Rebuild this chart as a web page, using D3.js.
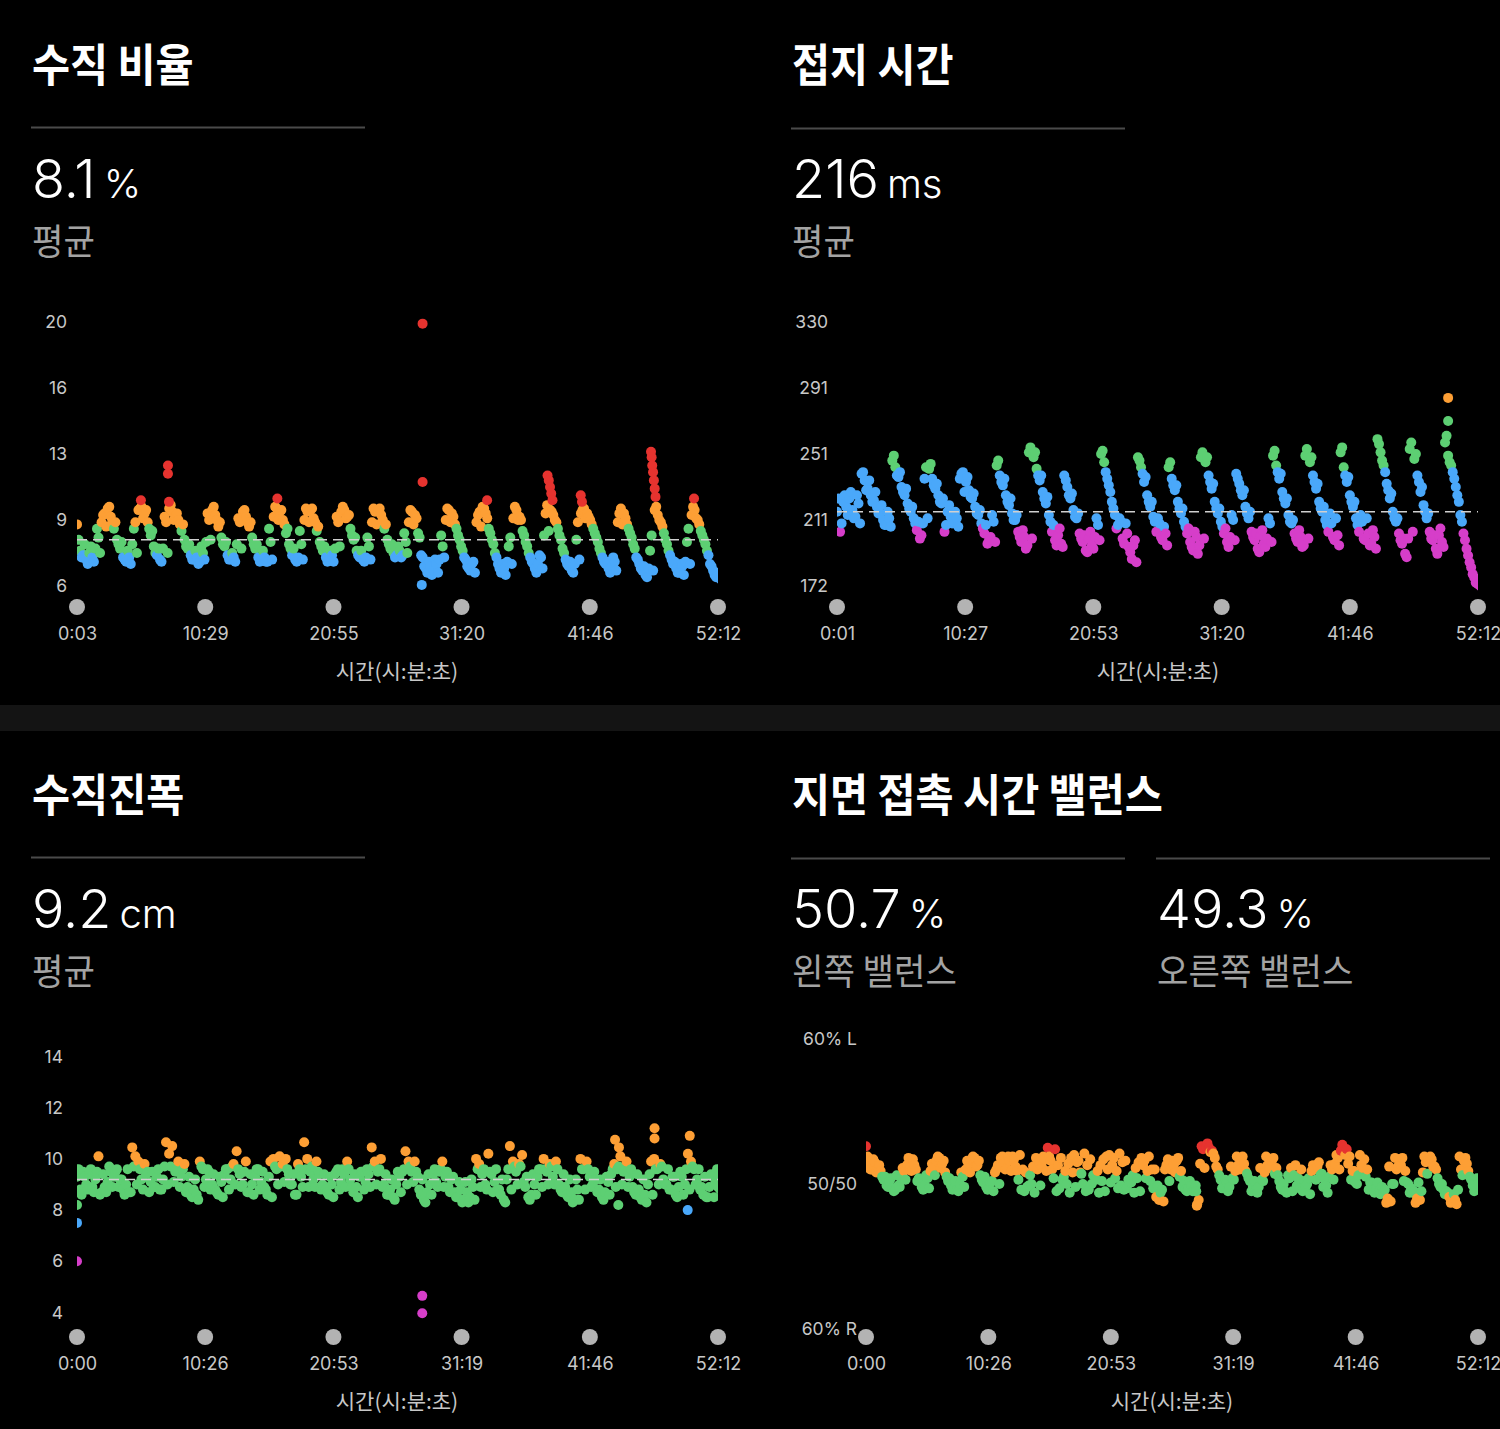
<!DOCTYPE html>
<html><head><meta charset="utf-8">
<script src="https://cdn.jsdelivr.net/npm/d3@7"></script>
<style>
html,body{margin:0;padding:0;background:#000;}
svg{display:block;}
</style></head><body>
<svg id="c" width="1500" height="1429"></svg>
<script>
// ---------- DATA ----------
const SAMPLE_STEP = 15;   // seconds between recorded samples
const WINDOW_STEP = 30;   // seconds per high/low window

// 수직 비율 (vertical ratio, %)
const ratioStart = 3;
const ratioValues = [
  8.8, 7.6, 7.4, 7.2, 7.5, 7.3, 7.7, 8.2, 8.9, 9.4,
  9.7, 9.2, 8.6, 8.1, 7.7, 7.3, 7.1, 7.3, 7.9, 8.9,
  9.6, 9.8, 9.4, 8.9, 8.3, 7.8, 7.4, 7.2, 7.7, 8.9,
  9.7, 9.5, 9.2, 9.0, 8.5, 8.1, 7.7, 7.4, 7.2, 7.3,
  7.1, 7.5, 8.0, 9.0, 9.6, 9.3, 8.7, 8.2, 7.8, 7.4,
  7.2, 7.3, 7.9, 8.9, 9.5, 9.2, 8.7, 8.2, 7.7, 7.3,
  7.2, 7.3, 7.1, 8.0, 9.2, 9.7, 9.5, 9.0, 8.4, 7.9,
  7.4, 7.2, 7.3, 7.9, 9.0, 9.5, 9.6, 9.1, 8.5, 8.0,
  7.6, 7.3, 7.2, 7.4, 7.7, 8.9, 9.5, 9.6, 9.2, 8.6,
  8.1, 7.6, 7.3, 7.2, 7.3, 7.8, 8.9, 9.5, 9.6, 9.3,
  8.6, 8.1, 7.7, 7.5, 7.4, 7.6, 7.4, 8.0, 8.9, 9.5,
  9.3, 8.4, 7.4, 6.9, 6.6, 6.9, 6.7, 7.0, 7.2, 7.8,
  9.0, 9.6, 9.4, 8.8, 8.3, 7.8, 7.3, 6.9, 6.7, 7.1,
  8.9, 9.5, 9.8, 9.4, 8.6, 8.1, 7.5, 7.0, 6.6, 6.8,
  7.1, 8.2, 9.1, 9.6, 9.2, 8.5, 8.0, 7.5, 7.1, 6.8,
  7.0, 7.3, 8.3, 9.9, 9.6, 9.3, 8.9, 8.3, 7.7, 7.2,
  6.9, 6.7, 7.0, 8.9, 9.4, 9.7, 9.4, 9.0, 8.6, 8.2,
  7.7, 7.3, 7.0, 6.8, 6.9, 7.1, 8.9, 9.7, 9.4, 8.8,
  8.4, 7.9, 7.3, 7.0, 6.7, 6.5, 6.8, 8.3, 9.6, 9.3,
  8.9, 8.4, 7.9, 7.4, 7.0, 6.8, 6.6, 6.9, 7.1, 8.6,
  9.3, 9.6, 9.0, 8.5, 8.1, 7.6, 7.0, 6.7, 6.4
];
const ratioWindowHigh = [
  8.1, 7.9, 7.8, 8.6, 9.3, 9.8, 8.9, 8.0, 7.6, 8.6,
  9.7, 9.6, 8.5, 7.7, 9.2, 9.9, 9.4, 8.8, 7.9, 7.6,
  7.8, 9.4, 9.8, 8.9, 8.0, 7.5, 9.1, 9.6, 8.9, 7.9,
  7.6, 8.6, 9.8, 9.6, 8.6, 7.7, 8.5, 9.7, 9.7, 8.7,
  7.8, 7.6, 9.2, 9.8, 9.3, 8.2, 7.6, 8.2, 9.7, 9.7,
  8.8, 7.9, 7.8, 8.4, 9.6, 9.1, 7.3, 7.1, 7.2, 8.3,
  9.7, 9.2, 8.1, 7.2, 7.0, 9.3, 9.7, 8.4, 7.3, 7.0,
  7.8, 9.8, 9.0, 7.8, 7.0, 7.4, 9.4, 9.5, 8.6, 7.5,
  7.1, 8.1, 9.6, 9.2, 8.4, 7.5, 7.1, 7.3, 9.4, 9.1,
  8.2, 7.2, 6.9, 7.6, 9.8, 8.7, 7.6, 7.1, 7.0, 8.0,
  9.8, 8.8, 7.9, 6.9, 6.6
];
const ratioWindowLow = [
  7.3, 7.0, 7.1, 7.5, 8.7, 8.9, 7.9, 7.2, 7.0, 7.5,
  9.1, 8.6, 7.5, 7.1, 7.5, 9.0, 8.8, 7.8, 7.2, 7.0,
  7.2, 8.1, 9.0, 7.9, 7.2, 7.1, 7.7, 8.9, 7.9, 7.1,
  7.1, 7.2, 9.0, 8.8, 7.7, 7.1, 7.2, 8.9, 8.9, 7.8,
  7.1, 7.1, 7.8, 9.1, 8.3, 7.4, 7.1, 7.2, 8.8, 9.0,
  7.9, 7.3, 7.3, 7.5, 8.8, 8.2, 6.8, 6.5, 6.6, 7.3,
  8.9, 8.6, 7.6, 6.8, 6.6, 8.7, 9.1, 7.9, 6.8, 6.5,
  7.0, 9.0, 8.3, 7.3, 6.6, 6.8, 8.5, 9.0, 8.1, 7.0,
  6.6, 7.2, 9.1, 8.8, 8.0, 7.1, 6.6, 6.7, 8.8, 8.6,
  7.7, 6.8, 6.4, 6.7, 9.0, 8.1, 7.2, 6.6, 6.5, 7.0,
  9.1, 8.3, 7.4, 6.5, 6.3
];
const ratioExtraTimes = [315, 447, 447, 452, 981, 1690, 1690, 1686, 2005, 2300, 2306, 2312, 2318, 2324, 2462, 2468, 2805, 2808, 2811, 2815, 2819, 2823, 2827, 3015];
const ratioExtraValues = [10.2, 12.3, 11.8, 10.1, 10.3, 19.9, 11.3, 6.05, 10.2, 11.7, 11.4, 11.0, 10.6, 10.2, 10.5, 10.1, 13.1, 12.8, 12.3, 11.9, 11.4, 10.9, 10.4, 10.3];
const ratioYTicks = [6, 9, 13, 16, 20];
const ratioXLabels = ["0:03", "10:29", "20:55", "31:20", "41:46", "52:12"];
const ratioZoneBreaks = [6.05, 7.45, 8.65, 10.05];
const ratioAvg = 8.1;

// 접지 시간 (ground contact time, ms)
const contactStart = 1;
const contactValues = [
  216, 204, 222, 219, 224, 217, 213, 221, 239, 235,
  230, 226, 223, 219, 215, 211, 208, 212, 247, 243,
  237, 231, 226, 221, 216, 212, 205, 200, 209, 243,
  242, 236, 230, 226, 221, 204, 216, 213, 210, 212,
  236, 240, 234, 229, 224, 219, 214, 209, 203, 197,
  201, 210, 244, 238, 232, 226, 220, 215, 211, 204,
  198, 201, 196, 255, 249, 242, 235, 228, 221, 214,
  204, 199, 202, 197, 238, 231, 224, 217, 212, 203,
  198, 193, 200, 196, 201, 208, 251, 246, 236, 228,
  218, 206, 212, 200, 209, 195, 188, 199, 249, 243,
  234, 226, 219, 213, 204, 209, 199, 203, 243, 236,
  229, 222, 215, 210, 203, 198, 193, 201, 196, 252,
  246, 238, 230, 222, 215, 210, 203, 198, 201, 211,
  239, 233, 226, 219, 212, 204, 199, 194, 202, 197,
  200, 209, 250, 244, 236, 228, 221, 214, 209, 203,
  198, 201, 196, 254, 246, 238, 230, 222, 216, 211,
  204, 209, 199, 202, 252, 243, 234, 226, 219, 212,
  204, 210, 199, 203, 197, 201, 260, 252, 244, 233,
  224, 216, 210, 203, 197, 191, 200, 258, 248, 238,
  228, 220, 212, 204, 199, 194, 202, 198, 258, 250,
  244, 236, 226, 214, 203, 194, 186, 179, 174
];
const contactWindowHigh = [
  224, 226, 228, 226, 240, 235, 228, 220, 216, 250,
  240, 230, 219, 210, 236, 245, 233, 224, 220, 216,
  239, 237, 227, 217, 208, 214, 247, 236, 224, 214,
  205, 252, 252, 238, 225, 208, 206, 235, 227, 215,
  202, 204, 212, 253, 232, 214, 210, 203, 196, 247,
  237, 222, 212, 207, 246, 232, 218, 206, 204, 249,
  249, 233, 218, 206, 214, 236, 229, 216, 203, 205,
  212, 253, 239, 224, 211, 205, 250, 249, 233, 219,
  215, 212, 255, 237, 222, 214, 212, 205, 257, 240,
  227, 212, 200, 254, 251, 231, 215, 202, 206, 262,
  240, 222, 199, 183, 176
];
const contactWindowLow = [
  209, 214, 212, 209, 229, 222, 215, 208, 207, 238,
  228, 218, 209, 202, 212, 232, 222, 208, 209, 207,
  228, 225, 215, 206, 199, 198, 234, 222, 211, 201,
  194, 200, 238, 224, 210, 196, 195, 226, 213, 200,
  192, 194, 199, 240, 222, 208, 197, 192, 186, 239,
  222, 210, 201, 196, 232, 218, 207, 195, 191, 200,
  234, 218, 207, 195, 199, 229, 215, 201, 192, 195,
  198, 240, 224, 210, 200, 195, 200, 234, 218, 208,
  201, 196, 238, 222, 208, 200, 196, 194, 247, 229,
  212, 199, 189, 204, 234, 216, 200, 191, 195, 246,
  231, 210, 190, 177, 172
];
const contactExtraTimes = [2986, 2986, 3132];
const contactExtraValues = [285, 271, 173];
const contactYTicks = [172, 211, 251, 291, 330];
const contactXLabels = ["0:01", "10:27", "20:53", "31:20", "41:46", "52:12"];
const contactZoneBreaks = [206.5, 240.5, 275.5, 305.5];
const contactAvg = 216;

// 수직진폭 (vertical oscillation, cm)
const oscStart = 0;
const oscValues = [
  9.3, 8.8, 9.5, 9.0, 9.4, 8.9, 9.2, 10.1, 8.7, 8.9,
  9.1, 9.5, 9.3, 9.6, 9.2, 8.8, 9.0, 8.7, 10.45, 10.1,
  9.9, 9.2, 9.8, 9.5, 9.1, 8.9, 9.3, 8.8, 9.2, 10.65,
  10.2, 10.5, 9.5, 9.9, 9.3, 9.8, 8.9, 8.6, 8.8, 8.6,
  9.9, 9.6, 9.2, 9.5, 9.0, 8.8, 8.6, 9.1, 9.4, 9.6,
  9.2, 9.8, 10.3, 9.4, 9.0, 9.9, 8.7, 9.0, 9.3, 9.6,
  9.1, 8.9, 8.6, 9.9, 10.0, 9.6, 10.1, 9.8, 10.0, 9.4,
  9.0, 8.6, 9.8, 9.3, 10.65, 10.0, 9.5, 9.2, 9.9, 9.4,
  9.0, 8.8, 8.6, 9.0, 9.4, 9.6, 9.1, 9.4, 9.9, 9.2,
  8.7, 8.9, 9.3, 9.5, 9.1, 9.4, 10.45, 9.9, 9.5, 10.0,
  9.0, 8.6, 8.8, 8.5, 9.0, 9.3, 9.5, 10.3, 9.9, 9.5,
  9.9, 9.3, 8.6, 8.4, 8.7, 9.0, 9.4, 9.1, 9.5, 9.9,
  9.3, 8.9, 9.2, 8.7, 8.5, 8.8, 8.4, 8.7, 8.5, 8.9,
  10.0, 9.8, 9.4, 9.0, 10.2, 9.4, 9.1, 8.8, 8.6, 8.4,
  9.2, 10.5, 9.9, 9.5, 9.8, 10.15, 8.9, 8.5, 8.6, 9.0,
  9.3, 9.6, 10.0, 9.5, 9.8, 9.3, 9.9, 9.0, 8.7, 8.9,
  8.5, 8.7, 8.4, 8.8, 10.0, 9.6, 9.9, 9.3, 9.0, 9.2,
  8.8, 8.5, 8.7, 9.1, 9.4, 9.8, 9.6, 10.1, 9.5, 9.9,
  9.3, 8.9, 8.6, 8.8, 8.4, 8.6, 9.0, 9.9, 10.0, 9.6,
  9.8, 9.2, 9.0, 8.8, 9.3, 8.6, 8.9, 9.3, 9.0, 10.2,
  9.9, 9.6, 9.2, 8.8, 8.6, 8.5, 8.9, 9.3, 9.1
];
const oscWindowHigh = [
  9.6, 9.3, 9.6, 9.5, 9.4, 9.7, 9.5, 9.2, 9.6, 9.7,
  9.6, 9.4, 9.5, 9.6, 9.7, 9.7, 9.6, 9.6, 9.3, 9.2,
  9.7, 9.6, 9.4, 9.3, 9.6, 9.7, 9.6, 9.5, 9.4, 9.6,
  9.5, 9.3, 9.7, 9.7, 9.6, 9.4, 9.6, 9.6, 9.7, 9.5,
  9.4, 9.3, 9.5, 9.6, 9.6, 9.4, 9.5, 9.6, 9.7, 9.6,
  9.4, 9.2, 9.5, 9.6, 9.7, 9.5, 9.2, 9.4, 9.6, 9.6,
  9.5, 9.3, 9.1, 9.1, 9.2, 9.6, 9.6, 9.5, 9.6, 9.2,
  9.6, 9.7, 9.7, 9.3, 9.4, 9.6, 9.6, 9.7, 9.6, 9.4,
  9.2, 9.2, 9.6, 9.6, 9.5, 9.2, 9.3, 9.6, 9.7, 9.6,
  9.6, 9.4, 9.2, 9.4, 9.6, 9.7, 9.6, 9.3, 9.5, 9.6,
  9.7, 9.6, 9.3, 9.4, 9.6
];
const oscWindowLow = [
  8.6, 8.8, 8.7, 8.6, 8.7, 8.9, 8.9, 8.6, 8.7, 9.0,
  8.8, 8.7, 8.9, 8.8, 9.0, 9.1, 8.9, 8.7, 8.5, 8.4,
  8.9, 8.8, 8.7, 8.5, 8.8, 9.0, 8.9, 8.7, 8.6, 8.8,
  8.8, 8.5, 9.0, 9.1, 9.0, 8.6, 8.9, 8.9, 8.9, 8.8,
  8.7, 8.5, 8.8, 8.9, 8.9, 8.5, 8.8, 8.9, 9.0, 8.9,
  8.6, 8.4, 8.7, 9.0, 9.1, 8.8, 8.3, 8.6, 8.9, 8.9,
  8.7, 8.5, 8.3, 8.3, 8.4, 8.9, 8.8, 8.7, 8.8, 8.3,
  8.8, 9.0, 9.1, 8.4, 8.6, 8.9, 9.0, 9.0, 8.8, 8.6,
  8.3, 8.4, 8.8, 8.9, 8.7, 8.4, 8.6, 8.9, 9.0, 8.9,
  8.7, 8.5, 8.3, 8.6, 9.0, 9.0, 8.8, 8.5, 8.6, 8.8,
  9.0, 8.9, 8.5, 8.5, 8.8
];
const oscExtraTimes = [0, 0, 0, 1687, 1687, 2629, 2645, 2648, 2822, 2822, 2984, 2994, 3132, 3132];
const oscExtraValues = [8.2, 7.5, 6.0, 4.65, 3.97, 10.75, 8.2, 10.45, 11.2, 10.8, 8.0, 10.9, 9.3, 8.9];
const oscYTicks = [4, 6, 8, 10, 12, 14];
const oscXLabels = ["0:00", "10:26", "20:53", "31:19", "41:46", "52:12"];
const oscZoneBreaks = [6.35, 8.15, 9.75, 11.55];
const oscAvg = 9.2;

// 지면 접촉 시간 밸런스 (GCT balance, % left)
const balanceStart = 0;
const balanceValues = [
  51.2, 51.6, 51.0, 51.5, 51.1, 50.9, 50.3, 49.9, 50.2, 49.7,
  49.6, 49.9, 50.4, 50.9, 51.3, 51.1, 51.7, 51.0, 50.4, 49.8,
  49.9, 50.4, 50.9, 51.2, 51.6, 51.8, 51.4, 50.8, 50.2, 49.9,
  49.7, 49.6, 50.0, 50.5, 51.0, 51.4, 51.7, 51.8, 51.3, 50.6,
  50.1, 49.8, 49.7, 50.2, 50.8, 51.3, 51.8, 51.4, 51.1, 51.6,
  51.9, 51.2, 50.3, 49.6, 49.5, 49.8, 50.6, 51.2, 51.8, 51.5,
  51.2, 51.7, 52.5, 51.6, 50.4, 49.5, 49.7, 50.3, 50.9, 51.4,
  51.8, 52.0, 51.5, 50.8, 50.0, 49.5, 49.6, 50.0, 50.5, 50.9,
  51.3, 51.7, 51.9, 52.0, 51.3, 50.4, 49.7, 49.9, 49.6, 49.7,
  50.1, 50.6, 51.1, 51.5, 51.8, 51.6, 50.9, 50.2, 49.7, 49.1,
  48.9, 49.6, 51.0, 51.7, 51.0, 51.3, 51.6, 50.5, 49.8, 49.6,
  49.7, 49.9, 49.5, 48.6, 51.4, 52.4, 52.6, 52.5, 52.3, 51.8,
  51.0, 50.3, 49.9, 50.1, 49.8, 50.4, 50.9, 51.3, 51.7, 51.4,
  50.7, 50.2, 49.8, 49.6, 49.8, 50.3, 50.8, 51.3, 51.6, 51.8,
  51.1, 50.2, 49.6, 49.5, 50.6, 51.1, 50.6, 49.9, 49.7, 49.5,
  49.8, 50.4, 50.9, 51.0, 51.2, 50.6, 49.8, 49.9, 50.5, 51.0,
  51.4, 51.8, 52.3, 52.5, 52.4, 51.9, 50.9, 50.1, 50.6, 51.3,
  51.7, 51.0, 50.1, 49.6, 49.7, 49.5, 49.8, 49.6, 49.0, 48.8,
  50.0, 51.0, 51.7, 51.8, 50.9, 50.0, 49.7, 49.5, 49.0, 48.9,
  50.8, 51.5, 51.8, 51.7, 51.2, 50.4, 49.8, 49.6, 49.5, 49.1,
  48.8, 48.9, 49.6, 51.0, 51.6, 51.4, 50.5, 49.9, 50.1
];
const balanceWindowHigh = [
  51.9, 51.7, 51.3, 50.5, 50.4, 50.6, 51.1, 51.8, 51.3, 50.3,
  50.6, 51.4, 51.9, 51.6, 50.4, 50.2, 50.8, 51.6, 51.9, 51.6,
  50.5, 50.1, 51.0, 51.9, 51.9, 51.7, 52.0, 50.8, 50.0, 51.0,
  51.9, 51.9, 52.4, 51.8, 50.0, 50.8, 51.6, 52.1, 51.7, 50.3,
  50.2, 51.0, 51.8, 52.1, 51.6, 50.1, 50.4, 51.3, 51.9, 51.0,
  49.4, 51.3, 51.6, 51.8, 50.2, 50.2, 49.9, 52.6, 52.8, 52.1,
  50.6, 50.3, 51.2, 51.9, 51.9, 50.4, 50.2, 51.1, 51.9, 51.6,
  50.6, 50.0, 50.4, 51.3, 51.0, 50.0, 51.3, 51.5, 50.3, 51.3,
  52.0, 52.7, 51.4, 50.9, 52.0, 50.5, 50.1, 50.1, 49.4, 51.2,
  51.8, 51.3, 50.1, 49.4, 50.1, 51.9, 51.9, 51.0, 50.0, 49.4,
  49.3, 51.9, 51.8, 50.3, 50.4
];
const balanceWindowLow = [
  51.0, 50.8, 50.5, 49.8, 49.5, 49.8, 50.3, 50.9, 50.2, 49.6,
  49.7, 50.6, 51.1, 50.5, 49.6, 49.5, 49.8, 50.8, 51.2, 50.3,
  49.6, 49.5, 50.0, 51.0, 50.9, 50.9, 51.0, 49.9, 49.4, 49.9,
  50.9, 51.0, 51.3, 50.5, 49.4, 49.8, 50.7, 51.3, 50.6, 49.4,
  49.5, 50.1, 50.9, 51.5, 50.3, 49.4, 49.5, 50.4, 51.0, 49.9,
  48.8, 50.2, 50.8, 50.9, 49.5, 49.5, 48.9, 51.1, 52.2, 51.2,
  49.7, 49.5, 50.3, 51.0, 50.9, 49.5, 49.4, 50.2, 51.1, 50.7,
  49.8, 49.4, 49.5, 50.4, 50.2, 49.3, 50.3, 50.7, 49.4, 50.3,
  51.0, 52.0, 50.3, 50.0, 51.1, 49.6, 49.4, 49.3, 48.7, 50.0,
  51.2, 50.2, 49.4, 48.7, 49.5, 50.7, 51.2, 50.0, 49.3, 48.7,
  48.6, 50.6, 50.9, 49.5, 49.7
];
const balanceExtraTimes = [0, 1690, 1693, 3132, 3132];
const balanceExtraValues = [52.6, 49.5, 48.5, 50.3, 50.0];
const balanceYTicks = [40, 50, 60];
const balanceYLabels = ["60% R", "50/50", "60% L"];
const balanceXLabels = ["0:00", "10:26", "20:53", "31:19", "41:46", "52:12"];
const balanceZoneBreaks = [0.75, 2.25]; // deviation from 50/50

// ---------- DRAWING ----------
const COL = {magenta: "#d63ec9", blue: "#4aa8fa", green: "#5dcf73", orange: "#fd9f35", red: "#e6332f"};
const FONT = "Inter, 'Noto Sans CJK KR', sans-serif";
const KFONT = "'Noto Sans CJK KR', sans-serif";
const DOT_R = 5;
const svg = d3.select("#c");
const defs = svg.append("defs");
svg.append("rect").attr("width", 1500).attr("height", 1429).attr("fill", "#000");
svg.append("rect").attr("x", 0).attr("y", 705).attr("width", 1500).attr("height", 26).attr("fill", "#141414");

const toSec = s => { const p = s.split(":").map(Number); return p[0] * 60 + p[1]; };

function header(h) {
  svg.append("text").attr("transform", `translate(${h.x},${h.titleY}) scale(0.92,1)`)
    .attr("font-family", KFONT).attr("font-weight", 700).attr("font-size", 45)
    .attr("fill", "#fff").text(h.title);
  h.stats.forEach(s => {
    svg.append("line").attr("x1", s.x - 1).attr("x2", s.x + 333).attr("y1", h.lineY).attr("y2", h.lineY)
      .attr("stroke", "#4a4a4a").attr("stroke-width", 2);
    const t = svg.append("text").attr("x", s.x).attr("y", h.valueY).attr("fill", "#fff")
      .attr("font-family", FONT).attr("font-weight", 300);
    t.append("tspan").attr("font-size", 54).text(s.value);
    t.append("tspan").attr("font-size", 40).attr("dx", 8).text(s.unit);
    svg.append("text").attr("transform", `translate(${s.x},${h.subY}) scale(0.95,1)`)
      .attr("font-family", KFONT).attr("font-size", 36).attr("fill", "#a3a3a3").text(s.label);
  });
}

function panel(p) {
  const tickSecs = p.xLabels.map(toSec);
  const x = d3.scaleLinear().domain([tickSecs[0], tickSecs[tickSecs.length - 1]]).range([p.x0, p.x1]);
  const y = p.y;
  const g = svg.append("g");

  const pts = p.values.map((v, i) => ({t: p.start + i * SAMPLE_STEP, v}))
    .concat(p.high.map((v, j) => ({t: p.start + j * WINDOW_STEP + 7.5, v})))
    .concat(p.low.map((v, j) => ({t: p.start + j * WINDOW_STEP + 22.5, v})))
    .sort((a, b) => a.t - b.t)
    .concat(p.extraTimes.map((t, i) => ({t, v: p.extraValues[i]})));

  defs.append("clipPath").attr("id", p.id).append("rect")
    .attr("x", p.x0).attr("y", 0).attr("width", p.x1 - p.x0).attr("height", 1429);

  g.append("g").attr("clip-path", `url(#${p.id})`)
    .selectAll("circle").data(pts).join("circle")
    .attr("cx", d => x(d.t)).attr("cy", d => y(d.v)).attr("r", DOT_R)
    .attr("fill", d => p.color(d.v));

  if (p.avg != null) {
    g.append("line").attr("x1", p.x0).attr("x2", p.x1).attr("y1", y(p.avg)).attr("y2", y(p.avg))
      .attr("stroke", "#d0d0d0").attr("stroke-width", 1.5).attr("stroke-dasharray", "10 6");
  }

  const ya = g.append("g").attr("transform", `translate(${p.yLabelX},0)`)
    .call(d3.axisLeft(y).tickValues(p.yTicks).tickSize(0).tickPadding(0)
      .tickFormat(p.yFormat || (d => d)));
  ya.select(".domain").remove();
  ya.attr("font-family", FONT).attr("font-size", 17.5).attr("color", "#c8c8c8");

  g.append("g").selectAll("circle").data(tickSecs).join("circle")
    .attr("cx", d => x(d)).attr("cy", p.dotY).attr("r", 8).attr("fill", "#b3b3b3");
  const xa = g.append("g").attr("transform", `translate(0,${p.xLabelTop})`)
    .call(d3.axisBottom(x).tickValues(tickSecs).tickSize(0).tickPadding(0)
      .tickFormat((d, i) => p.xLabels[i]));
  xa.select(".domain").remove();
  xa.attr("font-family", FONT).attr("font-size", 18).attr("color", "#c8c8c8");

  g.append("text").attr("x", p.titleX).attr("y", p.titleY).attr("text-anchor", "middle")
    .attr("font-family", KFONT).attr("font-size", 21).attr("fill", "#c8c8c8").text("시간(시:분:초)");
}

const zone5 = breaks => d3.scaleThreshold().domain(breaks)
  .range([COL.magenta, COL.blue, COL.green, COL.orange, COL.red]);
const balanceZone = d3.scaleThreshold().domain(balanceZoneBreaks).range([COL.green, COL.orange, COL.red]);

header({x: 32, title: "수직 비율", titleY: 82, lineY: 127.5, valueY: 198, subY: 255,
  stats: [{x: 32, value: ratioAvg.toFixed(1), unit: "%", label: "평균"}]});
header({x: 792, title: "접지 시간", titleY: 82, lineY: 128.5, valueY: 198, subY: 255,
  stats: [{x: 792, value: String(contactAvg), unit: "ms", label: "평균"}]});
header({x: 32, title: "수직진폭", titleY: 812, lineY: 857.5, valueY: 928, subY: 985,
  stats: [{x: 32, value: oscAvg.toFixed(1), unit: "cm", label: "평균"}]});
header({x: 792, title: "지면 접촉 시간 밸런스", titleY: 812, lineY: 858.5, valueY: 928, subY: 985,
  stats: [{x: 792, value: "50.7", unit: "%", label: "왼쪽 밸런스"},
          {x: 1157, value: "49.3", unit: "%", label: "오른쪽 밸런스"}]});

panel({id: "clipA", x0: 77, x1: 718, start: ratioStart, values: ratioValues,
  high: ratioWindowHigh, low: ratioWindowLow,
  extraTimes: ratioExtraTimes, extraValues: ratioExtraValues, xLabels: ratioXLabels,
  y: d3.scaleLinear().domain(ratioYTicks).range([586, 520, 454, 388, 322]),
  yTicks: ratioYTicks, yLabelX: 67, color: zone5(ratioZoneBreaks), avg: ratioAvg,
  dotY: 607, xLabelTop: 627, titleX: 397, titleY: 679});

panel({id: "clipB", x0: 837, x1: 1478, start: contactStart, values: contactValues,
  high: contactWindowHigh, low: contactWindowLow,
  extraTimes: contactExtraTimes, extraValues: contactExtraValues, xLabels: contactXLabels,
  y: d3.scaleLinear().domain(contactYTicks).range([586, 520, 454, 388, 322]),
  yTicks: contactYTicks, yLabelX: 828, color: zone5(contactZoneBreaks), avg: contactAvg,
  dotY: 607, xLabelTop: 627, titleX: 1158, titleY: 679});

panel({id: "clipC", x0: 77, x1: 718, start: oscStart, values: oscValues,
  high: oscWindowHigh, low: oscWindowLow,
  extraTimes: oscExtraTimes, extraValues: oscExtraValues, xLabels: oscXLabels,
  y: d3.scaleLinear().domain([4, 14]).range([1312.5, 1056.5]),
  yTicks: oscYTicks, yLabelX: 63, color: zone5(oscZoneBreaks), avg: oscAvg,
  dotY: 1337, xLabelTop: 1357, titleX: 397, titleY: 1409});

panel({id: "clipD", x0: 866, x1: 1478, start: balanceStart, values: balanceValues,
  high: balanceWindowHigh, low: balanceWindowLow,
  extraTimes: balanceExtraTimes, extraValues: balanceExtraValues, xLabels: balanceXLabels,
  y: d3.scaleLinear().domain([40, 60]).range([1329, 1039]),
  yTicks: balanceYTicks, yFormat: (d, i) => balanceYLabels[i], yLabelX: 857,
  color: v => balanceZone(Math.abs(v - 50)), avg: null,
  dotY: 1337, xLabelTop: 1357, titleX: 1172, titleY: 1409});
</script>
</body></html>
